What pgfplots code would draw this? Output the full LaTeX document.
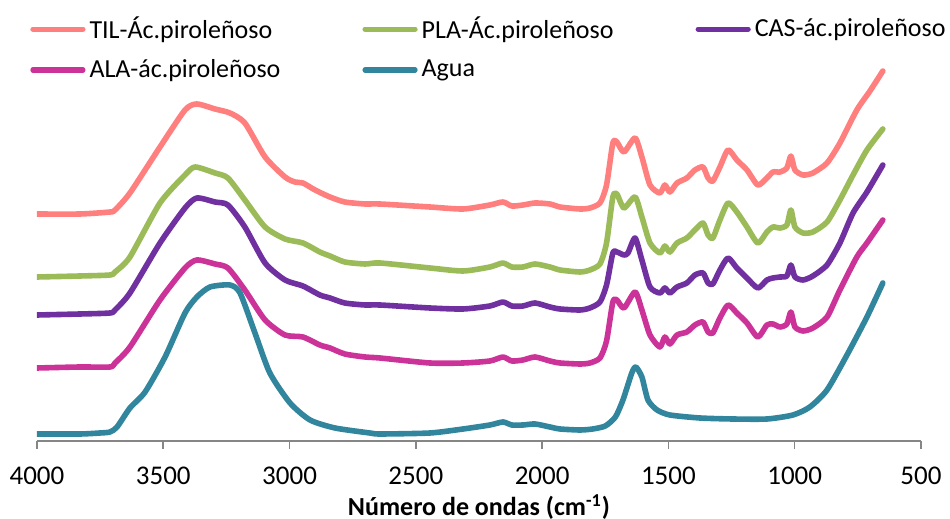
\documentclass[border=0pt]{standalone}
\usepackage{fontspec}
\setmainfont{Carlito}
\usepackage{pgfplots}
\pgfplotsset{compat=1.18}

\definecolor{cTIL}{HTML}{FF7F7F}
\definecolor{cPLA}{HTML}{9BBB59}
\definecolor{cCAS}{HTML}{7030A0}
\definecolor{cALA}{HTML}{CC3399}
\definecolor{cAgua}{HTML}{31859C}
\definecolor{axgray}{HTML}{868686}

\newcommand{\ff}{\fontsize{13}{15}\selectfont}

\begin{document}
\begin{tikzpicture}
\begin{axis}[
    at={(0,0)}, anchor=south west,
    scale only axis,
    width=442pt, height=190.5pt,
    x dir=reverse,
    xmin=500, xmax=4000,
    ymin=0, ymax=3.81,
    axis x line*=bottom,
    axis y line=none,
    axis line style={draw=axgray, line width=0.8pt},
    xtick={500,1000,...,4000},
    tick align=outside,
    major tick length=4pt,
    tick style={draw=axgray, line width=0.8pt},
    xticklabel style={font=\fontsize{13.5}{15}\selectfont, /pgf/number format/assume math mode=true,
        /pgf/number format/set thousands separator={}, yshift=-5.5pt},
    xlabel={\textbf{Número de ondas (cm\textsuperscript{-1})}},
    xlabel style={font=\ff, at={(axis description cs:0.5,0)}, anchor=center, yshift=-33pt},
    every axis plot/.append style={line width=2.8pt, line join=round, line cap=round,
        smooth, tension=0.4},
    legend columns=3,
    legend cell align=left,
    legend image code/.code={\draw[#1, line width=2.6pt, line cap=round, sharp plot] (0pt,0pt) -- (25pt,0pt);},
    legend style={at={(-0.008,1.125)}, anchor=north west, draw=none, fill=none,
        inner sep=0pt, font=\ff, row sep=5pt,
        /tikz/every even column/.append style={column sep=39pt}},
]
% TIL
\addplot[color=cTIL] coordinates {
(4000,2.27) (3830,2.27) (3711,2.29) (3691,2.31) (3632,2.48) (3513,2.94)
(3414,3.31) (3367,3.37) (3295,3.32) (3236,3.28) (3177,3.18) (3097,2.84)
(3018,2.64) (2979,2.59) (2947,2.58) (2899,2.51) (2840,2.44) (2781,2.39)
(2701,2.37) (2642,2.37) (2444,2.34) (2313,2.32) (2207,2.36) (2155,2.39)
(2120,2.35) (2076,2.36) (2028,2.38) (1969,2.37) (1929,2.34) (1850,2.32)
(1811,2.33) (1771,2.38) (1745,2.56) (1720,2.98) (1704,2.99)
(1676,2.89) (1632,3.03) (1605,2.84) (1573,2.56) (1534,2.48) (1514,2.56)
(1494,2.49) (1466,2.58) (1427,2.63) (1395,2.71) (1363,2.74) (1343,2.63)
(1324,2.60) (1296,2.74) (1264,2.91) (1229,2.81) (1189,2.71) (1146,2.56)
(1110,2.63) (1086,2.69) (1058,2.69) (1031,2.73) (1015,2.85) (999,2.71)
(967,2.66) (928,2.68) (872,2.78) (821,2.98) (754,3.31) (702,3.50) (651,3.70)
};
% PLA
\addplot[color=cPLA] coordinates {
(4000,1.64) (3830,1.65) (3711,1.66) (3691,1.69) (3632,1.84) (3513,2.38)
(3414,2.66) (3374,2.74) (3295,2.68) (3244,2.63) (3177,2.41) (3097,2.14)
(3018,2.02) (2947,1.98) (2880,1.89) (2840,1.85) (2781,1.79) (2701,1.77)
(2642,1.78) (2444,1.73) (2313,1.70) (2207,1.74) (2155,1.78) (2120,1.74)
(2076,1.74) (2028,1.77) (1969,1.74) (1929,1.71) (1850,1.69) (1811,1.71)
(1771,1.77) (1745,1.98) (1720,2.44) (1704,2.47) (1676,2.33)
(1632,2.44) (1605,2.24) (1573,1.98) (1534,1.88) (1514,1.95) (1494,1.89)
(1466,1.98) (1427,2.03) (1395,2.11) (1363,2.18) (1343,2.06) (1324,2.03)
(1296,2.21) (1264,2.38) (1229,2.29) (1189,2.14) (1146,1.98) (1110,2.09)
(1086,2.14) (1058,2.13) (1031,2.16) (1015,2.31) (999,2.14) (967,2.08)
(928,2.09) (872,2.19) (821,2.41) (769,2.66) (714,2.91) (651,3.12)
};
% CAS
\addplot[color=cCAS] coordinates {
(4000,1.26) (3830,1.27) (3711,1.28) (3691,1.31) (3632,1.48) (3513,1.98)
(3414,2.33) (3367,2.43) (3295,2.39) (3244,2.36) (3177,2.14) (3097,1.78)
(3018,1.61) (2947,1.55) (2880,1.46) (2840,1.43) (2781,1.38) (2701,1.36)
(2642,1.36) (2444,1.33) (2313,1.32) (2207,1.35) (2155,1.39) (2120,1.35)
(2076,1.35) (2028,1.38) (1969,1.34) (1929,1.32) (1850,1.31) (1811,1.33)
(1771,1.39) (1745,1.56) (1720,1.88) (1704,1.89) (1676,1.86)
(1660,1.88) (1632,2.03) (1605,1.81) (1573,1.54) (1534,1.48) (1514,1.53)
(1494,1.48) (1466,1.54) (1427,1.58) (1395,1.66) (1363,1.68) (1343,1.58)
(1324,1.57) (1296,1.71) (1264,1.83) (1229,1.73) (1189,1.63) (1146,1.53)
(1110,1.61) (1086,1.63) (1058,1.64) (1031,1.65) (1015,1.76) (999,1.64)
(967,1.61) (928,1.65) (872,1.76) (821,1.98) (769,2.28) (714,2.49) (651,2.76)
};
% ALA
\addplot[color=cALA] coordinates {
(4000,0.73) (3830,0.74) (3711,0.74) (3691,0.78) (3632,0.94) (3513,1.41)
(3414,1.73) (3367,1.81) (3295,1.77) (3244,1.73) (3177,1.51) (3097,1.21)
(3018,1.06) (2947,1.04) (2880,0.96) (2840,0.93) (2781,0.87) (2701,0.84)
(2642,0.83) (2444,0.78) (2313,0.78) (2207,0.80) (2155,0.84) (2120,0.80)
(2076,0.81) (2028,0.84) (1969,0.80) (1929,0.78) (1850,0.77) (1811,0.78)
(1771,0.83) (1745,1.00) (1720,1.39) (1704,1.41) (1676,1.33)
(1632,1.49) (1605,1.31) (1573,1.06) (1534,0.94) (1514,1.04) (1494,0.97)
(1466,1.06) (1427,1.09) (1395,1.16) (1363,1.19) (1343,1.09) (1324,1.08)
(1296,1.23) (1264,1.36) (1229,1.28) (1189,1.18) (1146,1.04) (1110,1.16)
(1086,1.17) (1058,1.14) (1031,1.17) (1015,1.29) (999,1.14) (967,1.10)
(928,1.13) (872,1.24) (821,1.51) (754,1.84) (714,1.98) (651,2.21)
};
% Agua
\addplot[color=cAgua] coordinates {
(4000,0.07) (3830,0.07) (3751,0.08) (3711,0.09) (3683,0.14) (3632,0.33)
(3572,0.49) (3493,0.84) (3414,1.28) (3367,1.44) (3315,1.54) (3236,1.56)
(3196,1.48) (3137,1.08) (3078,0.68) (2998,0.38) (2919,0.21) (2820,0.13)
(2682,0.08) (2642,0.07) (2444,0.08) (2313,0.12) (2207,0.16) (2155,0.19)
(2120,0.16) (2076,0.16) (2028,0.17) (1969,0.14) (1929,0.12) (1850,0.11)
(1800,0.12) (1750,0.15) (1710,0.24) (1680,0.41) (1645,0.68)
(1629,0.74) (1605,0.64) (1581,0.41) (1545,0.31) (1494,0.26) (1375,0.23)
(1245,0.22) (1110,0.22) (1007,0.26) (940,0.34) (872,0.51) (793,0.86)
(714,1.24) (651,1.58)
};
\legend{TIL-Ác.piroleñoso, PLA-Ác.piroleñoso, CAS-ác.piroleñoso,
        ALA-ác.piroleñoso, Agua}
\end{axis}
\pgfresetboundingbox
\useasboundingbox (-18.5pt,-39pt) rectangle (456.5pt,220.5pt);
\end{tikzpicture}
\end{document}
